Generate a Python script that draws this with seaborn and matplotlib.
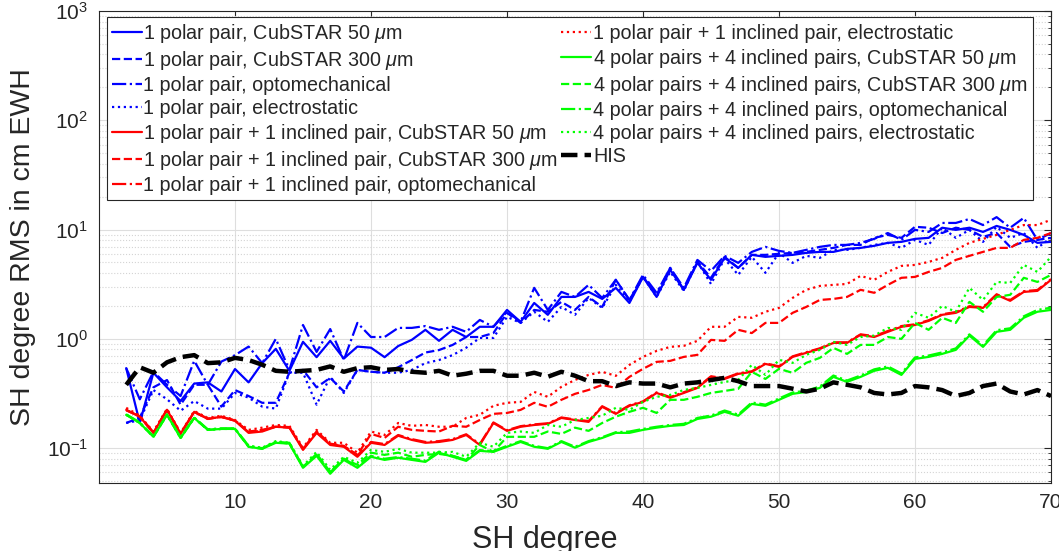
import numpy as np
import seaborn as sns
import matplotlib
matplotlib.use("Agg")
import matplotlib.pyplot as plt
from matplotlib.ticker import LogLocator, NullLocator

# SH degrees 2..70
degree = list(range(2, 71))

# 1 polar pair
blue_cub50 = [0.54, 0.17, 0.49, 0.36, 0.27, 0.39, 0.40, 0.33, 0.53, 0.40, 0.60, 0.81, 0.51, 0.94, 0.68, 0.96, 0.66,
              0.85, 0.83, 0.68, 0.86, 0.98, 1.21, 0.96, 1.21, 1.04, 1.29, 1.29, 1.84, 1.43, 2.13, 1.66, 2.42, 2.42,
              2.69, 2.32, 2.93, 2.13, 3.69, 2.42, 4.28, 2.81, 4.96, 3.47, 5.51, 4.46, 5.87, 5.63, 5.75, 5.87, 6.12,
              6.25, 6.25, 6.66, 6.80, 7.10, 7.56, 7.72, 8.22, 8.40, 10.4, 9.94, 10.4, 9.52, 10.8, 9.94, 8.94, 7.56, 7.72]
blue_cub300 = [0.17, 0.19, 0.36, 0.42, 0.25, 0.38, 0.38, 0.24, 0.34, 0.30, 0.26, 0.26, 0.49, 0.52, 0.36, 0.44, 0.33,
               0.52, 0.50, 0.49, 0.55, 0.64, 0.75, 0.79, 0.88, 1.04, 1.04, 1.13, 1.73, 1.40, 1.84, 1.77, 2.18, 1.84,
               2.42, 1.96, 3.47, 2.27, 3.69, 2.53, 4.46, 2.81, 5.06, 3.62, 5.63, 4.46, 5.87, 5.87, 6.00, 6.12, 6.25,
               6.52, 6.80, 7.24, 7.24, 8.40, 8.94, 8.40, 10.6, 10.4, 9.30, 10.4, 9.94, 8.58, 9.30, 6.95, 7.72, 8.05, 8.40]
blue_opto = [0.54, 0.28, 0.50, 0.38, 0.30, 0.63, 0.38, 0.62, 0.71, 0.85, 0.60, 1.00, 0.52, 1.34, 0.76, 1.23, 0.64,
             1.40, 1.04, 1.04, 1.26, 1.26, 1.31, 1.21, 1.29, 1.16, 1.49, 1.29, 1.77, 1.43, 2.93, 1.84, 2.69, 2.42,
             3.12, 2.37, 3.47, 2.27, 3.85, 2.64, 4.46, 2.93, 5.28, 4.19, 5.75, 4.96, 6.25, 6.95, 6.38, 6.12, 6.52,
             6.95, 7.24, 7.24, 7.56, 8.22, 9.30, 8.05, 9.94, 9.52, 11.5, 11.5, 12.5, 11.0, 13.0, 10.4, 12.8, 8.05, 9.30]
blue_electro = [0.17, 0.18, 0.34, 0.28, 0.22, 0.27, 0.23, 0.23, 0.32, 0.29, 0.24, 0.23, 0.49, 0.49, 0.25, 0.45, 0.32,
                0.52, 0.50, 0.49, 0.49, 0.52, 0.60, 0.64, 0.71, 0.83, 1.02, 1.02, 1.59, 1.40, 1.77, 1.43, 1.96, 1.66,
                2.37, 1.92, 3.12, 2.18, 3.69, 2.42, 4.10, 2.75, 5.06, 3.18, 5.40, 3.85, 5.63, 4.02, 6.12, 4.96, 5.75,
                5.51, 6.52, 6.52, 6.80, 7.24, 7.56, 6.80, 8.05, 7.24, 10.4, 8.40, 9.94, 7.72, 10.6, 8.40, 9.30, 6.80, 8.40]

# 1 polar pair + 1 inclined pair
red_cub50 = [0.224, 0.194, 0.138, 0.224, 0.135, 0.215, 0.185, 0.194, 0.178, 0.138, 0.142, 0.157, 0.154, 0.0965,
             0.138, 0.107, 0.103, 0.0834, 0.112, 0.107, 0.130, 0.119, 0.112, 0.114, 0.119, 0.132, 0.107, 0.170,
             0.144, 0.157, 0.163, 0.167, 0.189, 0.181, 0.174, 0.239, 0.206, 0.244, 0.265, 0.320, 0.289, 0.320,
             0.356, 0.449, 0.430, 0.478, 0.499, 0.590, 0.554, 0.684, 0.745, 0.810, 0.919, 0.919, 1.09, 1.04, 1.16,
             1.29, 1.34, 1.46, 1.66, 1.73, 1.96, 1.92, 2.53, 2.23, 2.69, 2.75, 3.47]
red_cub300 = [0.224, 0.194, 0.138, 0.224, 0.135, 0.215, 0.185, 0.194, 0.178, 0.142, 0.147, 0.157, 0.154, 0.0987,
              0.142, 0.110, 0.105, 0.0868, 0.135, 0.124, 0.157, 0.147, 0.144, 0.142, 0.160, 0.157, 0.181, 0.206,
              0.210, 0.224, 0.260, 0.239, 0.277, 0.314, 0.341, 0.379, 0.356, 0.449, 0.532, 0.616, 0.629, 0.684,
              0.714, 0.979, 0.959, 1.21, 1.13, 1.40, 1.40, 1.73, 1.96, 2.27, 2.32, 2.42, 2.81, 2.64, 3.12, 3.62,
              3.69, 4.10, 4.46, 5.28, 5.75, 6.25, 6.80, 6.80, 8.05, 8.40, 9.30]
red_opto = [0.222, 0.196, 0.140, 0.226, 0.137, 0.214, 0.187, 0.192, 0.180, 0.140, 0.145, 0.158, 0.156, 0.098,
            0.140, 0.109, 0.104, 0.086, 0.114, 0.109, 0.132, 0.121, 0.114, 0.116, 0.121, 0.134, 0.109, 0.172,
            0.146, 0.159, 0.165, 0.169, 0.191, 0.183, 0.177, 0.242, 0.209, 0.247, 0.268, 0.324, 0.293, 0.325,
            0.360, 0.455, 0.436, 0.484, 0.505, 0.598, 0.561, 0.692, 0.755, 0.820, 0.930, 0.930, 1.10, 1.06, 1.18,
            1.31, 1.36, 1.48, 1.68, 1.76, 1.99, 1.95, 2.56, 2.27, 2.73, 2.80, 3.52]
red_electro = [0.234, 0.198, 0.142, 0.229, 0.138, 0.219, 0.189, 0.198, 0.181, 0.147, 0.154, 0.163, 0.160, 0.101,
               0.147, 0.112, 0.112, 0.0909, 0.142, 0.132, 0.170, 0.160, 0.163, 0.157, 0.157, 0.189, 0.202, 0.244,
               0.260, 0.265, 0.327, 0.295, 0.364, 0.421, 0.468, 0.499, 0.459, 0.578, 0.684, 0.776, 0.845, 0.863,
               0.959, 1.29, 1.29, 1.59, 1.56, 1.77, 1.92, 2.37, 2.81, 3.05, 3.12, 3.18, 3.77, 3.47, 4.10, 4.65,
               4.75, 5.06, 5.51, 6.52, 7.56, 8.22, 8.94, 9.94, 11.0, 11.0, 12.3]

# 4 polar pairs + 4 inclined pairs
green_cub50 = [0.202, 0.170, 0.127, 0.202, 0.124, 0.189, 0.147, 0.150, 0.150, 0.103, 0.0987, 0.112, 0.110, 0.0661,
               0.0851, 0.0583, 0.0781, 0.0661, 0.0834, 0.0781, 0.0817, 0.0781, 0.0749, 0.0909, 0.0834, 0.0765,
               0.0945, 0.0925, 0.103, 0.114, 0.103, 0.0987, 0.114, 0.101, 0.114, 0.124, 0.138, 0.138, 0.147, 0.154,
               0.160, 0.163, 0.185, 0.194, 0.215, 0.198, 0.254, 0.244, 0.277, 0.314, 0.327, 0.356, 0.449, 0.404,
               0.449, 0.510, 0.543, 0.468, 0.656, 0.684, 0.729, 0.793, 1.07, 0.845, 1.16, 1.21, 1.56, 1.77, 1.84]
green_cub300 = [0.202, 0.170, 0.127, 0.202, 0.124, 0.189, 0.147, 0.150, 0.150, 0.103, 0.0987, 0.114, 0.110, 0.0675,
                0.0886, 0.0606, 0.0800, 0.0703, 0.0909, 0.0868, 0.0909, 0.0834, 0.0868, 0.0886, 0.0851, 0.0781,
                0.107, 0.0925, 0.127, 0.127, 0.127, 0.142, 0.135, 0.154, 0.144, 0.170, 0.194, 0.215, 0.234, 0.210,
                0.277, 0.277, 0.295, 0.320, 0.334, 0.349, 0.499, 0.430, 0.532, 0.489, 0.603, 0.670, 0.827, 0.729,
                0.881, 0.881, 1.04, 1.00, 1.40, 1.21, 1.56, 1.40, 2.18, 1.77, 2.42, 2.53, 3.62, 3.32, 3.85]
green_opto = [0.204, 0.172, 0.129, 0.204, 0.126, 0.191, 0.149, 0.152, 0.152, 0.105, 0.100, 0.114, 0.112, 0.0675,
              0.087, 0.060, 0.080, 0.068, 0.085, 0.080, 0.083, 0.080, 0.077, 0.093, 0.085, 0.078, 0.096, 0.094,
              0.105, 0.116, 0.105, 0.100, 0.116, 0.103, 0.116, 0.126, 0.140, 0.142, 0.150, 0.157, 0.163, 0.167,
              0.189, 0.199, 0.221, 0.203, 0.262, 0.250, 0.285, 0.323, 0.336, 0.366, 0.462, 0.416, 0.462, 0.526,
              0.560, 0.483, 0.677, 0.704, 0.752, 0.818, 1.10, 0.870, 1.20, 1.25, 1.61, 1.84, 1.93]
green_electro = [0.202, 0.170, 0.127, 0.202, 0.124, 0.189, 0.147, 0.150, 0.150, 0.105, 0.101, 0.116, 0.112, 0.0688,
                 0.0925, 0.0633, 0.0834, 0.0734, 0.0965, 0.0925, 0.0987, 0.0909, 0.0909, 0.0909, 0.0925, 0.0834,
                 0.112, 0.103, 0.138, 0.142, 0.138, 0.163, 0.157, 0.181, 0.189, 0.198, 0.234, 0.224, 0.265, 0.295,
                 0.307, 0.341, 0.356, 0.379, 0.404, 0.421, 0.578, 0.468, 0.643, 0.603, 0.714, 0.793, 0.939, 0.881,
                 1.04, 1.07, 1.26, 1.21, 1.73, 1.56, 2.00, 1.77, 2.93, 2.27, 3.32, 3.25, 4.75, 4.10, 5.63]

# HIS signal
his = [0.38, 0.55, 0.49, 0.61, 0.68, 0.71, 0.60, 0.61, 0.67, 0.64, 0.58, 0.51, 0.50, 0.51, 0.52, 0.56, 0.50, 0.54,
       0.55, 0.52, 0.53, 0.50, 0.49, 0.51, 0.46, 0.48, 0.51, 0.51, 0.46, 0.46, 0.49, 0.45, 0.50, 0.46, 0.41, 0.41,
       0.37, 0.40, 0.39, 0.39, 0.36, 0.39, 0.40, 0.42, 0.44, 0.41, 0.37, 0.37, 0.37, 0.35, 0.33, 0.35, 0.40, 0.38,
       0.36, 0.32, 0.31, 0.32, 0.37, 0.36, 0.34, 0.30, 0.32, 0.37, 0.39, 0.33, 0.31, 0.34, 0.30]

um = r"$\mu$m"
series = [
    ("1 polar pair, CubSTAR 50 " + um, blue_cub50, "#0000ff", "-"),
    ("1 polar pair, CubSTAR 300 " + um, blue_cub300, "#0000ff", "--"),
    ("1 polar pair, optomechanical", blue_opto, "#0000ff", "-."),
    ("1 polar pair, electrostatic", blue_electro, "#0000ff", ":"),
    ("1 polar pair + 1 inclined pair, CubSTAR 50 " + um, red_cub50, "#ff0000", "-"),
    ("1 polar pair + 1 inclined pair, CubSTAR 300 " + um, red_cub300, "#ff0000", "--"),
    ("1 polar pair + 1 inclined pair, optomechanical", red_opto, "#ff0000", "-."),
    ("1 polar pair + 1 inclined pair, electrostatic", red_electro, "#ff0000", ":"),
    ("4 polar pairs + 4 inclined pairs, CubSTAR 50 " + um, green_cub50, "#00ff00", "-"),
    ("4 polar pairs + 4 inclined pairs, CubSTAR 300 " + um, green_cub300, "#00ff00", "--"),
    ("4 polar pairs + 4 inclined pairs, optomechanical", green_opto, "#00ff00", "-."),
    ("4 polar pairs + 4 inclined pairs, electrostatic", green_electro, "#00ff00", ":"),
]

sns.set_theme(style="white")
plt.rcParams['font.family'] = ['Liberation Sans', 'DejaVu Sans']
plt.rcParams['mathtext.fontset'] = 'custom'
plt.rcParams['mathtext.rm'] = 'Liberation Sans'
plt.rcParams['mathtext.it'] = 'Liberation Sans:italic'

fig = plt.figure(figsize=(10.59, 5.51), dpi=100)
ax = fig.add_axes([99 / 1059, 1 - 483 / 551, 952 / 1059, 472 / 551])

for label, vals, color, ls in series:
    sns.lineplot(x=degree, y=vals, ax=ax, color=color, linestyle=ls, linewidth=1.6, label=label)
sns.lineplot(x=degree, y=his, ax=ax, color="black", linestyle="--", linewidth=3.2, label="HIS")

ax.set_yscale("log")
ax.set_xlim(0, 70)
ax.set_ylim(0.048, 1000)
ax.set_xticks(range(10, 71, 10))
ax.xaxis.set_minor_locator(NullLocator())
ax.yaxis.set_major_locator(LogLocator(base=10, numticks=10))
ax.yaxis.set_minor_locator(LogLocator(base=10, subs=np.arange(2, 10), numticks=60))

ax.grid(which="major", color="#dedede", linewidth=0.8)
ax.grid(which="minor", axis="y", color="#d4d4d4", linestyle=":", linewidth=0.8)
ax.set_axisbelow(True)

ax.tick_params(which="both", direction="in", top=True, right=True, colors="#262626", labelsize=15)
ax.tick_params(which="major", length=5, width=0.8)
ax.tick_params(which="minor", length=2.5, width=0.6)
ax.tick_params(axis="y", pad=8)
ax.tick_params(axis="x", pad=7)
for sp in ax.spines.values():
    sp.set_color("#262626")
    sp.set_linewidth(0.8)

ax.set_xlabel("SH degree", fontsize=22, color="#262626")
ax.set_ylabel("SH degree RMS in cm EWH", fontsize=20.5, color="#262626")
ax.xaxis.set_label_coords(0.468, -0.088)
ax.yaxis.set_label_coords(-0.066, 0.5)

handles, labels = ax.get_legend_handles_labels()
leg = ax.legend(handles, labels, ncol=2, loc="upper left", bbox_to_anchor=(0.0084, 0.987),
                borderaxespad=0, fontsize=14.2, handlelength=1.5, handletextpad=0.1,
                columnspacing=0.15, labelspacing=0.2, borderpad=0.25,
                frameon=True, fancybox=False, edgecolor="#262626", framealpha=1)
leg.get_frame().set_linewidth(0.8)

fig.savefig("out.png", dpi=100)
